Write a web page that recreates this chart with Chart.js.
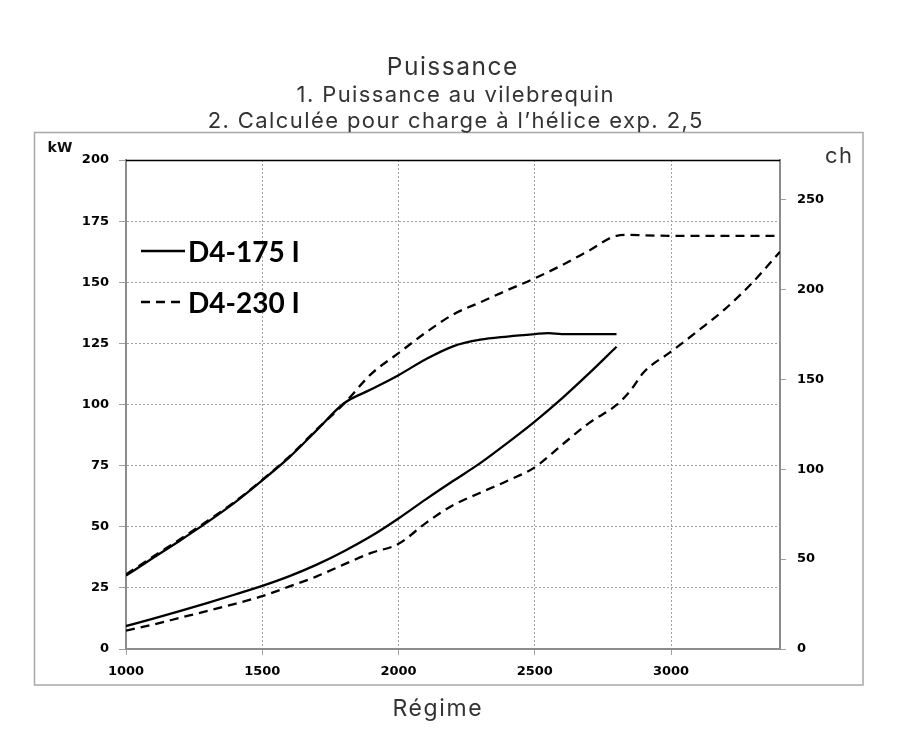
<!DOCTYPE html>
<html><head><meta charset="utf-8">
<script src="https://cdn.jsdelivr.net/npm/chart.js@4.4.1/dist/chart.umd.min.js"></script>
<style>html,body{margin:0;padding:0;background:#fff;}canvas{display:block}</style>
</head><body>
<canvas id="c" width="900" height="750"></canvas>
<script>
// ---- data ----
const rpm175   = [1000,1100,1200,1300,1400,1500,1600,1700,1800,1900,2000,2100,2200,2300,2400,2500,2550,2600,2700,2800];
const power175 = [30,37.3,44.5,52,60,69,78.5,89.5,100.5,106.2,112,118.5,123.8,126.5,127.8,128.8,129.2,128.8,128.8,128.8];
const rpmProp175 = [1000,1100,1200,1300,1400,1500,1600,1700,1800,1900,2000,2100,2200,2300,2400,2500,2600,2700,2800];
const prop175    = [9.4,12.4,15.6,18.9,22.3,25.8,29.8,34.5,40,46.2,53.4,61.2,68.7,76,84.3,93,102.5,112.8,123.6];
const rpm230   = [1000,1100,1200,1300,1400,1500,1600,1700,1800,1900,2000,2100,2200,2300,2400,2500,2600,2700,2800,2850,2900,3000,3200,3400];
const power230 = [30.5,37.8,45,52.5,60.3,69.2,78.8,89.8,100.3,112.5,121,129.4,136.8,141.8,146.8,151.6,157,163,169,169.4,169.2,169,169,169];
const rpmProp230 = [1000,1100,1200,1300,1400,1500,1600,1700,1800,1900,2000,2100,2200,2300,2400,2500,2600,2700,2800,2850,2900,3000,3100,3200,3300,3400];
const prop230    = [7.5,10,12.8,15.6,18.5,21.6,25.6,29.7,34.6,39.3,43,51.5,58.8,63.9,68.8,74.3,83.5,92.5,99.8,105.5,113.2,121.6,130.2,139.2,150,162.5];
const xTicks  = [1000,1500,2000,2500,3000];
const kwTicks = [0,25,50,75,100,125,150,175,200];
const chTicks = [0,50,100,150,200,250];
const seriesNames = ['D4-175 I','D4-230 I'];
const titleText = 'Puissance';
const subtitleLines = ['1. Puissance au vilebrequin','2. Calculée pour charge à l\u2019hélice exp. 2,5'];
const xTitle = 'Régime';
const kwUnit = 'kW';
const chUnit = 'ch';
const KW_PER_CH = 0.7355;

const pts = (xs, ys) => xs.map((x, i) => ({x, y: ys[i]}));
const DASH = [9,6];
const LW = 2.3;
const tickFont = {family: 'DejaVu Sans', size: 13, weight: 'bold'};
const plainTick = v => String(v);

function spacedText(ctx, text, x, y, spacing) {
  try { ctx.letterSpacing = spacing + 'px'; } catch (e) {}
  ctx.fillText(text, x + (ctx.textAlign === 'center' ? spacing / 2 : 0), y);
  try { ctx.letterSpacing = '0px'; } catch (e) {}
}

const framePlugin = {
  id: 'frame',
  beforeDraw(chart) {
    const ctx = chart.ctx;
    ctx.save();
    ctx.strokeStyle = '#a8a8a8';
    ctx.lineWidth = 1.5;
    ctx.strokeRect(34.5, 132.5, 828.5, 552.5);
    ctx.restore();
  },
  afterDraw(chart) {
    const ctx = chart.ctx, a = chart.chartArea;
    ctx.save();
    // top border of plot
    ctx.strokeStyle = '#000';
    ctx.lineWidth = 1.5;
    ctx.beginPath(); ctx.moveTo(a.left, a.top + 0.5); ctx.lineTo(a.right, a.top + 0.5); ctx.stroke();
    // titles
    ctx.fillStyle = '#333';
    ctx.textAlign = 'center'; ctx.textBaseline = 'alphabetic';
    ctx.font = '24.5px Inter';
    spacedText(ctx, titleText, 452, 75, 1.5);
    ctx.font = '22px Inter';
    subtitleLines.forEach((t, i) => spacedText(ctx, t, 455, 102 + i * 26, 1.4));
    ctx.font = '23px Inter';
    spacedText(ctx, xTitle, 437, 716, 1.6);
    // unit labels
    ctx.textAlign = 'left';
    ctx.font = '22px Inter';
    spacedText(ctx, chUnit, 825, 163, 1.5);
    ctx.fillStyle = '#111';
    ctx.textAlign = 'center'; ctx.textBaseline = 'middle';
    ctx.font = 'bold 14px "DejaVu Sans"';
    ctx.fillText(kwUnit, 60, 148);
    // legend
    const ds = chart.data.datasets;
    const items = [{ds: ds[0], y: 251}, {ds: ds[2], y: 302}];
    items.forEach((it, i) => {
      ctx.strokeStyle = '#000';
      ctx.lineWidth = LW;
      ctx.setLineDash(it.ds.borderDash || []);
      ctx.beginPath(); ctx.moveTo(141, it.y); ctx.lineTo(185, it.y); ctx.stroke();
      ctx.setLineDash([]);
      ctx.fillStyle = '#000';
      ctx.font = 'bold 28px Lato';
      ctx.textAlign = 'left'; ctx.textBaseline = 'alphabetic';
      ctx.fillText(seriesNames[i], 188, it.y + 10.5);
    });
    ctx.restore();
  }
};

new Chart(document.getElementById('c'), {
  type: 'line',
  data: {
    datasets: [
      {label: seriesNames[0] + ' (1)', data: pts(rpm175, power175), borderColor: '#000', borderWidth: LW, borderDash: [], pointRadius: 0, cubicInterpolationMode: 'monotone', fill: false},
      {label: seriesNames[0] + ' (2)', data: pts(rpmProp175, prop175), borderColor: '#000', borderWidth: LW, borderDash: [], pointRadius: 0, cubicInterpolationMode: 'monotone', fill: false},
      {label: seriesNames[1] + ' (1)', data: pts(rpm230, power230), borderColor: '#000', borderWidth: LW, borderDash: DASH, pointRadius: 0, cubicInterpolationMode: 'monotone', fill: false},
      {label: seriesNames[1] + ' (2)', data: pts(rpmProp230, prop230), borderColor: '#000', borderWidth: LW, borderDash: DASH, pointRadius: 0, cubicInterpolationMode: 'monotone', fill: false}
    ]
  },
  options: {
    responsive: false,
    animation: false,
    devicePixelRatio: 1,
    layout: {padding: {top: 160, left: 0, right: 0, bottom: 0}},
    plugins: {
      legend: {display: false},
      tooltip: {enabled: false},
      title: {display: false},
      subtitle: {display: false}
    },
    scales: {
      x: {
        type: 'linear', min: 1000, max: 3400,
        afterBuildTicks: s => { s.ticks = xTicks.map(v => ({value: v})); },
        afterFit: s => { s.height = 101; },
        grid: {color: '#a0a0a0', lineWidth: 1, drawTicks: true, tickLength: 6, tickColor: '#a0a0a0', tickBorderDash: []},
        border: {display: true, color: '#8c8c8c', width: 2, dash: [2,2]},
        ticks: {color: '#000', font: tickFont, padding: 9, maxRotation: 0, autoSkip: false, callback: plainTick}
      },
      y: {
        type: 'linear', position: 'left', min: 0, max: 200,
        afterBuildTicks: s => { s.ticks = kwTicks.map(v => ({value: v})); },
        afterFit: s => { s.width = 126; },
        grid: {color: '#a0a0a0', lineWidth: 1, drawTicks: true, tickLength: 7, tickColor: '#a0a0a0', tickBorderDash: []},
        border: {display: true, color: '#8c8c8c', width: 2, dash: [2,2]},
        ticks: {color: '#000', font: tickFont, padding: 10, autoSkip: false, callback: plainTick}
      },
      y2: {
        type: 'linear', position: 'right', min: 0, max: 200 / KW_PER_CH,
        afterBuildTicks: s => { s.ticks = chTicks.map(v => ({value: v})); },
        afterFit: s => { s.width = 120; },
        grid: {drawOnChartArea: false, color: '#a0a0a0', drawTicks: true, tickLength: 6, tickColor: '#a0a0a0'},
        border: {display: true, color: '#8c8c8c', width: 2},
        ticks: {color: '#000', font: tickFont, padding: 11, autoSkip: false, callback: plainTick}
      }
    }
  },
  plugins: [framePlugin]
});
</script>
</body></html>
